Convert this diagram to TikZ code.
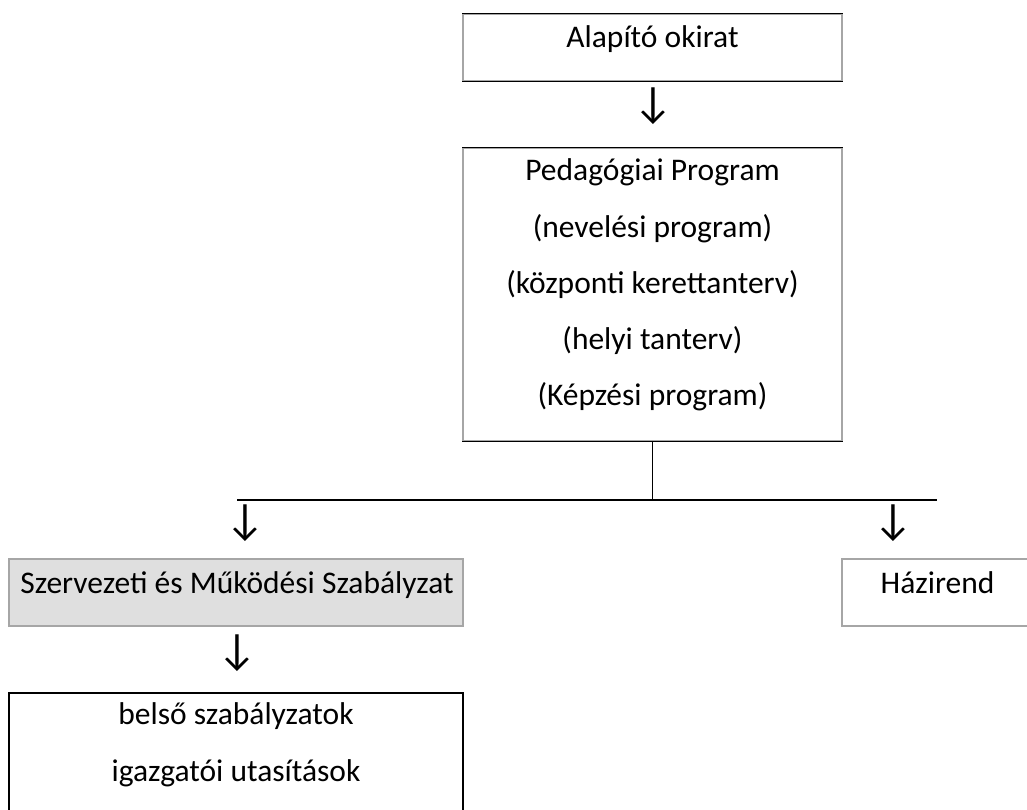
\documentclass[tikz,border=0pt]{standalone}
\usepackage{fontspec}
\setmainfont{Carlito}
\begin{document}
\begin{tikzpicture}[x=1pt,y=-1pt,
  txt/.style={anchor=base,inner sep=0pt,font=\fontsize{31.5}{38}\selectfont},
  arr/.style={anchor=center,inner sep=0pt,font=\fontsize{44}{50}\selectfont},
  gbox/.style={draw=gray!70,line width=1.2pt,inner sep=0pt},
  kbox/.style={draw=black,line width=1.2pt,inner sep=0pt},
  conn/.style={draw=black,line width=1.2pt}]
\clip (0,0) rectangle (1027,810);
\fill[white] (0,0) rectangle (1027,810);
% Alapito okirat
\node[gbox,minimum width=379pt,minimum height=67pt] (alap) at (652.5,47.5) {};
\draw[conn] (alap.north west) -- (alap.north east);
\draw[conn] (alap.south west) -- (alap.south east);
\node[txt] (talap) at (652.5,48) {Alapító okirat};
\node[arr] (a1) at (653.5,106) {↓};
% Pedagogiai program
\node[gbox,minimum width=379pt,minimum height=293pt] (ped) at (652.5,294.5) {};
\draw[conn] (ped.north west) -- (ped.north east);
\draw[conn] (ped.south west) -- (ped.south east);
\node[txt] (p1) at (652.5,181) {Pedagógiai Program};
\node[txt] (p2) at (652.5,237) {(nevelési program)};
\node[txt] (p3) at (652.5,293) {(központi kerettanterv)};
\node[txt] (p4) at (652.5,349) {(helyi tanterv)};
\node[txt] (p5) at (652.5,405) {(Képzési program)};
% branch
\coordinate (bj) at (652.5,500);
\coordinate (bl) at (237,500);
\coordinate (br) at (937,500);
\draw[conn] (ped.south -| bj) -- (bj);
\draw[conn] (bl) -- (br);
\node[arr] (a2) at (245,523) {↓};
\node[arr] (a3) at (893,523) {↓};
% SZMSZ
\node[gbox,fill=gray!25,minimum width=454pt,minimum height=67pt] (szmsz) at (236,592.5) {};
\node[txt] (tsz) at (237,593) {Szervezeti és Működési Szabályzat};
% Hazirend
\node[gbox,minimum width=191pt,minimum height=67pt] (haz) at (937.5,592.5) {};
\node[txt] (thaz) at (937.5,593) {Házirend};
\node[arr] (a4) at (237,653) {↓};
% belso
\node[kbox,minimum width=454pt,minimum height=160pt] (bel) at (236,773) {};
\node[txt] (b1) at (236,724) {belső szabályzatok};
\node[txt] (b2) at (236,781) {igazgatói utasítások};
\end{tikzpicture}
\end{document}
